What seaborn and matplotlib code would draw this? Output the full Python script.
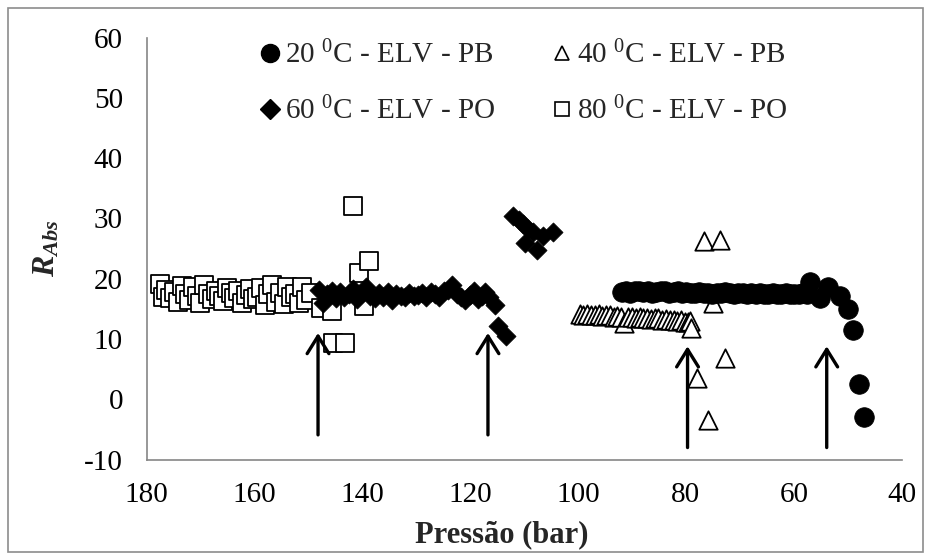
import matplotlib
matplotlib.use("Agg")
import numpy as np
import pandas as pd
import matplotlib.pyplot as plt
import seaborn as sns
from matplotlib.lines import Line2D
from matplotlib.patches import Rectangle

# ---------------- data ----------------
series_labels = ["20 $^{0}$C - ELV - PB", "40 $^{0}$C - ELV - PB",
                 "60 $^{0}$C - ELV - PO", "80 $^{0}$C - ELV - PO"]

p80 = [177.5, 177.0, 176.3, 175.6, 174.9, 174.2, 173.5, 172.8, 172.1, 171.4,
       170.7, 170.0, 169.3, 168.6, 167.9, 167.2, 166.5, 165.8, 165.1, 164.4,
       163.7, 163.0, 162.3, 161.6, 160.9, 160.2, 159.5, 158.8, 158.1, 157.4,
       156.7, 156.0, 155.3, 154.6, 153.9, 153.2, 152.5, 151.8, 151.1, 150.4,
       149.5, 147.6, 145.7, 145.5, 143.2, 141.8, 140.6, 139.7, 138.7]
r80 = [19.2, 17.0, 18.2, 16.8, 17.8, 16.2, 18.8, 17.4, 16.5, 18.6,
       17.2, 16.0, 18.9, 17.5, 16.6, 18.0, 17.1, 16.3, 18.4, 17.6,
       16.8, 17.9, 15.9, 17.3, 18.3, 16.6, 17.0, 18.5, 15.7, 17.4,
       19.0, 16.2, 17.7, 15.8, 18.7, 16.9, 17.5, 15.9, 18.7, 16.4,
       17.6, 15.1, 14.7, 9.3, 9.3, 32.0, 20.9, 15.4, 22.9]

p60 = [148.0, 147.3, 146.5, 145.7, 144.9, 144.1, 143.3, 142.5, 141.7, 140.9,
       140.1, 139.3, 138.5, 137.7, 136.9, 136.1, 135.3, 134.5, 133.7, 132.9,
       132.1, 131.3, 130.5, 129.7, 128.9, 128.1, 127.3, 126.5, 125.7, 124.9,
       124.1, 123.3, 122.5, 121.7, 120.9, 120.1, 119.3, 118.5, 117.8, 117.2,
       116.5, 115.4, 114.8, 113.3, 112.0, 111.0, 110.2, 109.9, 109.2, 108.4,
       107.7, 106.5, 104.7]
r60 = [18.2, 16.0, 17.5, 18.0, 16.8, 17.8, 16.9, 17.5, 18.3, 16.6,
       17.7, 18.6, 17.1, 16.8, 17.6, 17.0, 17.8, 16.5, 17.4, 17.2,
       16.9, 17.7, 17.1, 17.3, 17.6, 16.9, 17.8, 17.4, 17.0, 17.9,
       18.1, 18.9, 17.5, 17.0, 16.4, 17.3, 17.9, 16.6, 17.2, 17.8,
       16.9, 15.7, 12.2, 10.5, 30.4, 29.8, 29.0, 26.0, 28.3, 27.8,
       24.7, 27.0, 27.8]

p40 = [99.7, 99.0, 98.3, 97.6, 96.9, 96.2, 95.5, 94.8, 94.1, 93.4,
       92.7, 92.0, 91.4, 90.7, 90.0, 89.3, 88.6, 87.9, 87.2, 86.5,
       85.8, 85.1, 84.4, 83.7, 83.0, 82.3, 81.6, 80.9, 80.2, 79.6,
       79.3, 79.0, 77.9, 76.6, 75.9, 75.0, 73.6, 72.8]
r40 = [14.1, 14.0, 14.2, 13.9, 14.0, 14.1, 13.8, 13.9, 14.0, 13.7,
       13.8, 13.6, 12.7, 13.7, 13.6, 13.5, 13.7, 13.4, 13.5, 13.3,
       13.5, 13.4, 13.2, 13.3, 13.1, 13.2, 13.0, 13.1, 12.9, 12.8,
       13.0, 11.8, 3.5, 26.3, -3.4, 16.0, 26.5, 6.8]

p20 = [91.9, 91.1, 90.3, 89.5, 88.7, 87.9, 87.1, 86.3, 85.5, 84.7,
       83.9, 83.1, 82.3, 81.5, 80.7, 79.9, 79.1, 78.3, 77.5, 76.7,
       75.9, 75.1, 74.3, 73.5, 72.7, 71.9, 71.1, 70.3, 69.5, 68.7,
       67.9, 67.1, 66.3, 65.5, 64.7, 63.9, 63.1, 62.3, 61.5, 60.7,
       59.9, 59.1, 58.3, 57.6, 57.0, 55.1, 53.6, 51.4, 49.9, 49.1,
       47.95, 47.0]
r20 = [17.8, 17.9, 17.7, 17.9, 18.0, 17.8, 17.9, 17.7, 17.8, 18.0,
       17.9, 17.7, 17.8, 17.9, 17.7, 17.8, 17.6, 17.7, 17.8, 17.6,
       17.7, 17.5, 17.7, 17.6, 17.8, 17.6, 17.5, 17.7, 17.6, 17.4,
       17.6, 17.5, 17.7, 17.5, 17.4, 17.6, 17.5, 17.4, 17.6, 17.5,
       17.4, 17.5, 17.7, 17.4, 19.5, 16.8, 18.7, 17.2, 14.9, 11.5,
       2.6, -2.9]

arrow_x = [148.2, 116.7, 79.7, 53.9]
arrow_tip = [11.0, 11.0, 8.8, 8.8]
arrow_base = [-5.9, -5.9, -8.0, -8.0]

x_ticks = [180, 160, 140, 120, 100, 80, 60, 40]
y_ticks = [-10, 0, 10, 20, 30, 40, 50, 60]

# ---------------- style ----------------
sns.set_theme(style="white")
plt.rcParams["font.family"] = ["Liberation Serif", "DejaVu Serif"]
plt.rcParams["mathtext.fontset"] = "custom"
plt.rcParams["mathtext.rm"] = "Liberation Serif"
plt.rcParams["mathtext.it"] = "Liberation Serif:italic:bold"
plt.rcParams["mathtext.bf"] = "Liberation Serif:bold"
plt.rcParams["axes.unicode_minus"] = False

W, H = 931, 560
FS = 21
fig = plt.figure(figsize=(W / 100, H / 100), dpi=100)
fig.patches.append(Rectangle((8 / W, 8 / H), (W - 16) / W, (H - 16) / H,
                             transform=fig.transFigure, fill=False,
                             edgecolor="#8c8c8c", linewidth=1.2))
ax = fig.add_axes([146.5 / W, 1 - 459.6 / H, 755.2 / W, 422.1 / H])

sns.scatterplot(x=p80, y=r80, marker="s", s=170, facecolor="white",
                edgecolor="black", linewidth=1.3, ax=ax, zorder=2)
sns.scatterplot(x=p60, y=r60, marker="D", s=95, color="black",
                edgecolor="black", linewidth=0.5, ax=ax, zorder=3)
sns.scatterplot(x=p40, y=r40, marker="^", s=175, facecolor="white",
                edgecolor="black", linewidth=1.3, ax=ax, zorder=4)
sns.scatterplot(x=p20, y=r20, marker="o", s=200, color="black",
                edgecolor="black", linewidth=0.5, ax=ax, zorder=5)

for xa, yt, yb in zip(arrow_x, arrow_tip, arrow_base):
    ax.annotate("", xy=(xa, yt), xytext=(xa, yb),
                arrowprops=dict(arrowstyle="->,head_length=0.45,head_width=0.28",
                                lw=2.4, color="black",
                                mutation_scale=28, shrinkA=0, shrinkB=0),
                zorder=6)

ax.set_xlim(180, 40)
ax.set_ylim(-10, 60)
ax.set_xticks(x_ticks)
ax.set_yticks(y_ticks)
ax.set_xticklabels([str(v) for v in x_ticks])
ax.set_yticklabels([str(v) for v in y_ticks])

for side in ["top", "right"]:
    ax.spines[side].set_visible(False)
for side in ["left", "bottom"]:
    ax.spines[side].set_color("#868686")
    ax.spines[side].set_linewidth(1.2)
ax.tick_params(axis="both", direction="out", length=8, width=1.2,
               color="#868686", labelsize=FS, labelcolor="black")
ax.tick_params(axis="y", pad=9)
ax.tick_params(axis="x", pad=8)

ax.set_xlabel("Pressão (bar)", fontsize=22, fontweight="bold")
ax.xaxis.set_label_coords(0.47, -0.178, transform=ax.transAxes)
ax.xaxis.label.set_va("center")
ax.set_ylabel("$R_{Abs}$", fontsize=23, labelpad=16)

h20 = Line2D([], [], ls="none", marker="o", ms=13, mfc="black", mec="black")
h40 = Line2D([], [], ls="none", marker="^", ms=10, mfc="white", mec="black", mew=1.2)
h60 = Line2D([], [], ls="none", marker="D", ms=10, mfc="black", mec="black")
h80 = Line2D([], [], ls="none", marker="s", ms=9.5, mfc="white", mec="black", mew=1.2)
ax.legend([h20, h60, h40, h80],
          [series_labels[0], series_labels[2], series_labels[1], series_labels[3]],
          ncol=2, loc="upper left", bbox_to_anchor=(0.136, 1.02), frameon=False,
          fontsize=FS, handlelength=0.6, handletextpad=0.22, columnspacing=2.0,
          labelspacing=0.95, borderaxespad=0)

fig.savefig("out.png", dpi=100)
